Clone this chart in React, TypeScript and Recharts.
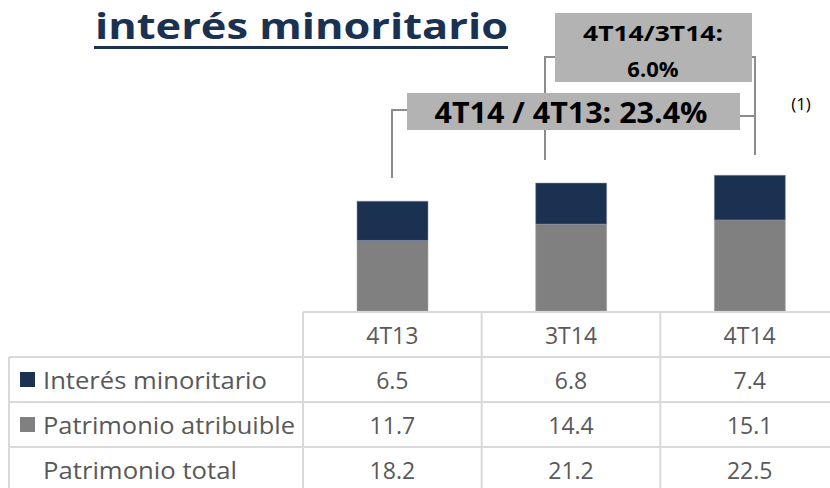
import { Bar, BarChart, XAxis, YAxis } from "recharts";

const categories = ["4T13", "3T14", "4T14"];
const interesMinoritario = [6.5, 6.8, 7.4];
const patrimonioAtribuible = [11.7, 14.4, 15.1];
const patrimonioTotal = [18.2, 21.2, 22.5];
const rowLabels = ["Interés minoritario", "Patrimonio atribuible", "Patrimonio total"];
const rowLabelWidths = [224, 252, 194];

const NAVY = "#1b3152";
const GREY = "#808080";
const LINE = "#d9d9d9";
const CONNECTOR = "#8c8c8c";
const TEXT = "#595959";
const FONT = "'Open Sans', sans-serif";

const W = 839;
const H = 488;
const PLOT_LEFT = 303;
const BAND = (W - PLOT_LEFT) / categories.length;

const data = categories.map((cat, i) => ({
  cat,
  atribuible: patrimonioAtribuible[i],
  minoritario: interesMinoritario[i],
  total: patrimonioTotal[i],
}));

const rowValues = [interesMinoritario, patrimonioAtribuible, patrimonioTotal];

function TableTick(props: any) {
  const { x, y, payload, index } = props;
  const left = x - BAND / 2;
  return (
    <g>
      <line x1={left} y1={y + 1} x2={left} y2={H} stroke={LINE} strokeWidth={2} />
      <text x={x} y={y + 24} textAnchor="middle" dominantBaseline="central" fontFamily={FONT} fontSize={23} fill={TEXT}>
        {payload.value}
      </text>
      {rowValues.map((vals, r) => (
        <text
          key={r}
          x={x}
          y={y + 69 + r * 45}
          textAnchor="middle"
          dominantBaseline="central"
          fontFamily={FONT}
          fontSize={23}
          fill={TEXT}
        >
          {vals[index].toFixed(1)}
        </text>
      ))}
    </g>
  );
}

function Overlay() {
  return (
    <svg width={830} height={H} style={{ position: "absolute", left: 0, top: 0, pointerEvents: "none" }}>
      {/* title */}
      <text x={95} y={39} fontFamily={FONT} fontWeight={700} fontSize={36} fill={NAVY} textLength={413} lengthAdjust="spacingAndGlyphs">
        interés minoritario
      </text>
      <rect x={94} y={46} width={414} height={3} fill={NAVY} />

      {/* connectors */}
      <polyline points="392,178 392,110 407,110" fill="none" stroke={CONNECTOR} strokeWidth={2} />
      <polyline points="545,160 545,57 555,57" fill="none" stroke={CONNECTOR} strokeWidth={2} />
      <polyline points="752,57 755,57 755,155" fill="none" stroke={CONNECTOR} strokeWidth={2} />
      <line x1={740} y1={116} x2={755} y2={116} stroke={CONNECTOR} strokeWidth={2} />

      {/* growth boxes */}
      <rect x={555} y={13} width={197} height={69} fill="#b3b3b3" />
      <text x={653} y={32} textAnchor="middle" dominantBaseline="central" fontFamily={FONT} fontWeight={700} fontSize={22} fill="#000" textLength={140} lengthAdjust="spacingAndGlyphs">
        4T14/3T14:
      </text>
      <text x={653} y={68} textAnchor="middle" dominantBaseline="central" fontFamily={FONT} fontWeight={700} fontSize={22} fill="#000">
        6.0%
      </text>
      <rect x={407} y={93} width={333} height={37} fill="#b3b3b3" />
      <text x={571} y={112} textAnchor="middle" dominantBaseline="central" fontFamily={FONT} fontWeight={700} fontSize={28} fill="#000" textLength={273} lengthAdjust="spacingAndGlyphs">
        4T14 / 4T13: 23.4%
      </text>
      <text x={801} y={103} textAnchor="middle" dominantBaseline="central" fontFamily={FONT} fontSize={17} fill="#000">
        (1)
      </text>

      {/* table grid */}
      <line x1={303} y1={312} x2={830} y2={312} stroke={LINE} strokeWidth={2} />
      {[357, 402, 447].map((yy) => (
        <line key={yy} x1={9} y1={yy} x2={830} y2={yy} stroke={LINE} strokeWidth={2} />
      ))}
      <line x1={9} y1={357} x2={9} y2={H} stroke={LINE} strokeWidth={2} />

      {/* row labels */}
      <rect x={20} y={372} width={15} height={15} fill={NAVY} />
      <rect x={20} y={417} width={15} height={15} fill={GREY} />
      {rowLabels.map((label, r) => (
        <text
          key={label}
          x={43}
          y={380 + r * 45}
          dominantBaseline="central"
          fontFamily={FONT}
          fontSize={23}
          fill={TEXT}
          textLength={rowLabelWidths[r]}
          lengthAdjust="spacingAndGlyphs"
        >
          {label}
        </text>
      ))}
    </svg>
  );
}

export default function App() {
  return (
    <div style={{ position: "absolute", left: 0, top: 0, width: 830, height: H, overflow: "hidden", background: "#fff" }}>
      <BarChart width={W} height={H} data={data} margin={{ top: 130, right: 0, left: PLOT_LEFT, bottom: 0 }}>
        <XAxis
          dataKey="cat"
          height={177}
          axisLine={false}
          tickLine={false}
          tickSize={0}
          tickMargin={0}
          interval={0}
          tick={<TableTick />}
        />
        <YAxis hide domain={[0, 30]} />
        <Bar dataKey="atribuible" stackId="a" fill={GREY} stroke="#a6a6a6" strokeWidth={0.5} barSize={71} isAnimationActive={false} />
        <Bar dataKey="minoritario" stackId="a" fill={NAVY} stroke="#8090a8" strokeWidth={0.5} barSize={71} isAnimationActive={false} />
      </BarChart>
      <Overlay />
    </div>
  );
}
